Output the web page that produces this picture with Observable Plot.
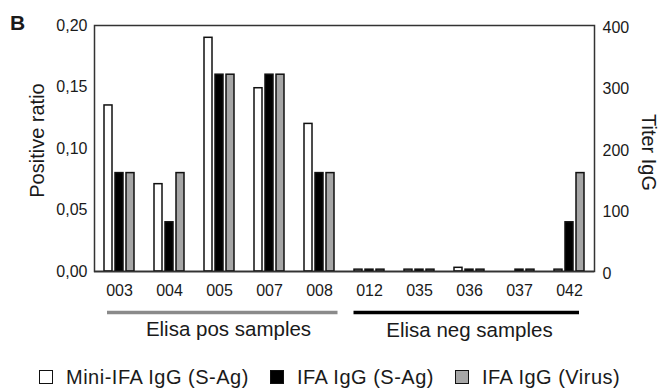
<!DOCTYPE html>
<html>
<head>
<meta charset="utf-8">
<script src="https://cdn.jsdelivr.net/npm/d3@7"></script>
<script src="https://cdn.jsdelivr.net/npm/@observablehq/plot@0.6"></script>
<style>
  html, body { margin: 0; padding: 0; background: #fff; }
  body { width: 660px; height: 388px; position: relative; overflow: hidden; font-family: "Liberation Sans", Arial, sans-serif; color: #1a1a1a; }
  #panel { position: absolute; left: 10px; top: 12px; font-size: 21px; line-height: 21px; font-weight: bold; }
  #legend { display: flex; align-items: center; padding-left: 39px; padding-top: 7px; font-size: 20px; line-height: 20px; letter-spacing: 0.5px; }
  .item { display: flex; align-items: center; margin-right: 21px; }
  .sw { width: 12px; height: 12px; border: 1.5px solid #111; margin-right: 13px; }
</style>
</head>
<body>
<div id="panel">B</div>
<div id="chart"></div>
<div id="legend"></div>
<script>
// ---- data ----
const samples = ["003", "004", "005", "007", "008", "012", "035", "036", "037", "042"];
const sampleGroups = ["pos", "pos", "pos", "pos", "pos", "neg", "neg", "neg", "neg", "neg"];
const groupNames = ["pos", "neg"];
const groupLabels = ["Elisa pos samples", "Elisa neg samples"];
const seriesNames = ["Mini-IFA IgG (S-Ag)", "IFA IgG (S-Ag)", "IFA IgG (Virus)"];
// positive ratio (left axis)
const miniIfaRatio = [0.135, 0.071, 0.19, 0.149, 0.12, 0.0015, 0.0015, 0.003, 0, 0.0015];
// titers (right axis)
const ifaSAgTiter = [160, 80, 320, 320, 160, 3, 3, 3, 3, 80];
const ifaVirusTiter = [160, 160, 320, 320, 160, 3, 3, 3, 3, 160];
const ratioTicks = [0, 0.05, 0.10, 0.15, 0.20];
const titerTicks = [0, 100, 200, 300, 400];

// ---- styles ----
const seriesColors = ["#ffffff", "#000000", "#a6a6a6"];
const groupColors = ["#8a8a8a", "#000000"];

// the titer axis maps onto the ratio axis
const titerToRatio = d3.scaleLinear().domain([0, 400]).range([0, 0.2]);

const rows = samples.flatMap((s, i) => [
  {sample: s, series: seriesNames[0], value: miniIfaRatio[i]},
  {sample: s, series: seriesNames[1], value: titerToRatio(ifaSAgTiter[i])},
  {sample: s, series: seriesNames[2], value: titerToRatio(ifaVirusTiter[i])}
]);

const sampleRows = samples.map((s, i) => ({sample: s, group: sampleGroups[i]}));

// group underline marks (one per sample cell, joined edge to edge)
const groupRuleMarks = sampleRows.map((r, i) => {
  const first = i === 0 || sampleGroups[i - 1] !== r.group;
  const last = i === samples.length - 1 || sampleGroups[i + 1] !== r.group;
  const isPos = r.group === "pos";
  return Plot.ruleY([r], {
    fx: "sample", y: () => 0, dy: 41,
    stroke: groupColors[groupNames.indexOf(r.group)],
    strokeWidth: 3.5,
    insetLeft: first ? (isPos ? 13 : 9.5) : 0,
    insetRight: last ? (isPos ? 6.5 : 15) : 0
  });
});

// group labels sit on the middle sample of each group
const groupLabelRows = groupNames.map((g, gi) => {
  const members = samples.filter((s, i) => sampleGroups[i] === g);
  return {sample: members[Math.floor(members.length / 2)], label: groupLabels[gi]};
});

const chart = Plot.plot({
  width: 660,
  height: 360,
  marginLeft: 90,
  marginRight: 63,
  marginTop: 25,
  marginBottom: 89,
  style: {fontFamily: "'Liberation Sans', Arial, sans-serif", fontSize: "16px", color: "#1a1a1a", background: "#fff", overflow: "visible"},
  fx: {domain: samples, padding: 0, label: null},
  x: {domain: seriesNames, paddingInner: 0.25, paddingOuter: 0.74, axis: null},
  y: {domain: [0, 0.2], axis: null},
  color: {domain: seriesNames, range: seriesColors},
  marks: [
    Plot.barY(rows, {fx: "sample", x: "series", y: "value", fill: "series", stroke: "#111", strokeWidth: 1.5}),
    Plot.ruleY([0], {stroke: "#000", strokeWidth: 1.5}),
    Plot.frame({facet: "super", stroke: "#333", strokeWidth: 1.5}),
    Plot.axisY({anchor: "left", ticks: ratioTicks, tickSize: 0, tickPadding: 7, label: null, fontSize: 16,
      tickFormat: d => d.toFixed(2).replace(".", ",")}),
    Plot.axisY({anchor: "right", ticks: titerTicks.map(titerToRatio), tickSize: 0, tickPadding: 8, label: null, fontSize: 16, dy: 2,
      tickFormat: d => String(Math.round(titerToRatio.invert(d)))}),
    Plot.axisFx({anchor: "bottom", tickSize: 0, tickPadding: 13, label: null, fontSize: 16}),
    ...groupRuleMarks,
    Plot.text(groupLabelRows.filter(d => d.label === groupLabels[0]), {fx: "sample", text: "label", frameAnchor: "bottom", dx: 9, dy: 64, fontSize: 20.5}),
    Plot.text(groupLabelRows.filter(d => d.label === groupLabels[1]), {fx: "sample", text: "label", frameAnchor: "bottom", dx: 0, dy: 65, fontSize: 20.5}),
    Plot.text(["Positive ratio"], {facet: "super", text: d => d, frameAnchor: "left", dx: -57, dy: -8, rotate: -90, textAnchor: "middle", lineAnchor: "middle", fontSize: 20}),
    Plot.text(["Titer IgG"], {facet: "super", text: d => d, frameAnchor: "right", dx: 54, dy: 4, rotate: 90, textAnchor: "middle", lineAnchor: "middle", fontSize: 20})
  ]
});
document.getElementById("chart").appendChild(chart);

// legend
const legend = document.getElementById("legend");
seriesNames.forEach((name, i) => {
  const item = document.createElement("div");
  item.className = "item";
  const sw = document.createElement("span");
  sw.className = "sw";
  sw.style.background = seriesColors[i];
  const tx = document.createElement("span");
  tx.textContent = name;
  item.appendChild(sw);
  item.appendChild(tx);
  legend.appendChild(item);
});
</script>
</body>
</html>
